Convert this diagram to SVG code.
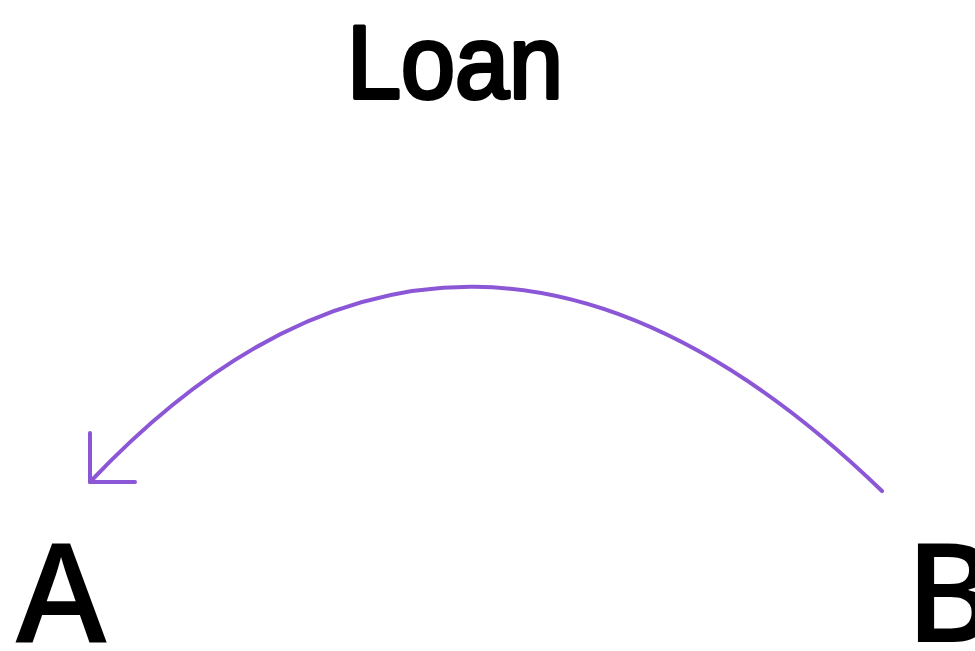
<svg xmlns="http://www.w3.org/2000/svg" width="975" height="651" viewBox="0 0 975 651">
<style>
.lbl{font-family:"Open Sans","Noto Sans",sans-serif;font-size:138px;font-weight:600;fill:#000}
.hand{font-family:"Liberation Sans",sans-serif;font-size:104px;fill:#000;stroke:#000;stroke-width:4;stroke-linejoin:round}
.conn{fill:none;stroke:#8b57d6;stroke-width:4;stroke-linecap:round;stroke-linejoin:round}
</style>
<rect width="975" height="651" fill="#fff"/>
<g id="title"><text class="hand" x="347" y="98" textLength="216" lengthAdjust="spacingAndGlyphs">Loan</text></g>
<g id="connectors">
<path class="conn" d="M882,491 Q464,87 90,482"/>
<path class="conn" d="M90,433 L90,482 L135,482"/>
</g>
<g id="nodeA"><text class="lbl" x="61" y="642" text-anchor="middle">A</text></g>
<g id="nodeB"><text class="lbl" x="905" y="642">B</text></g>
</svg>
